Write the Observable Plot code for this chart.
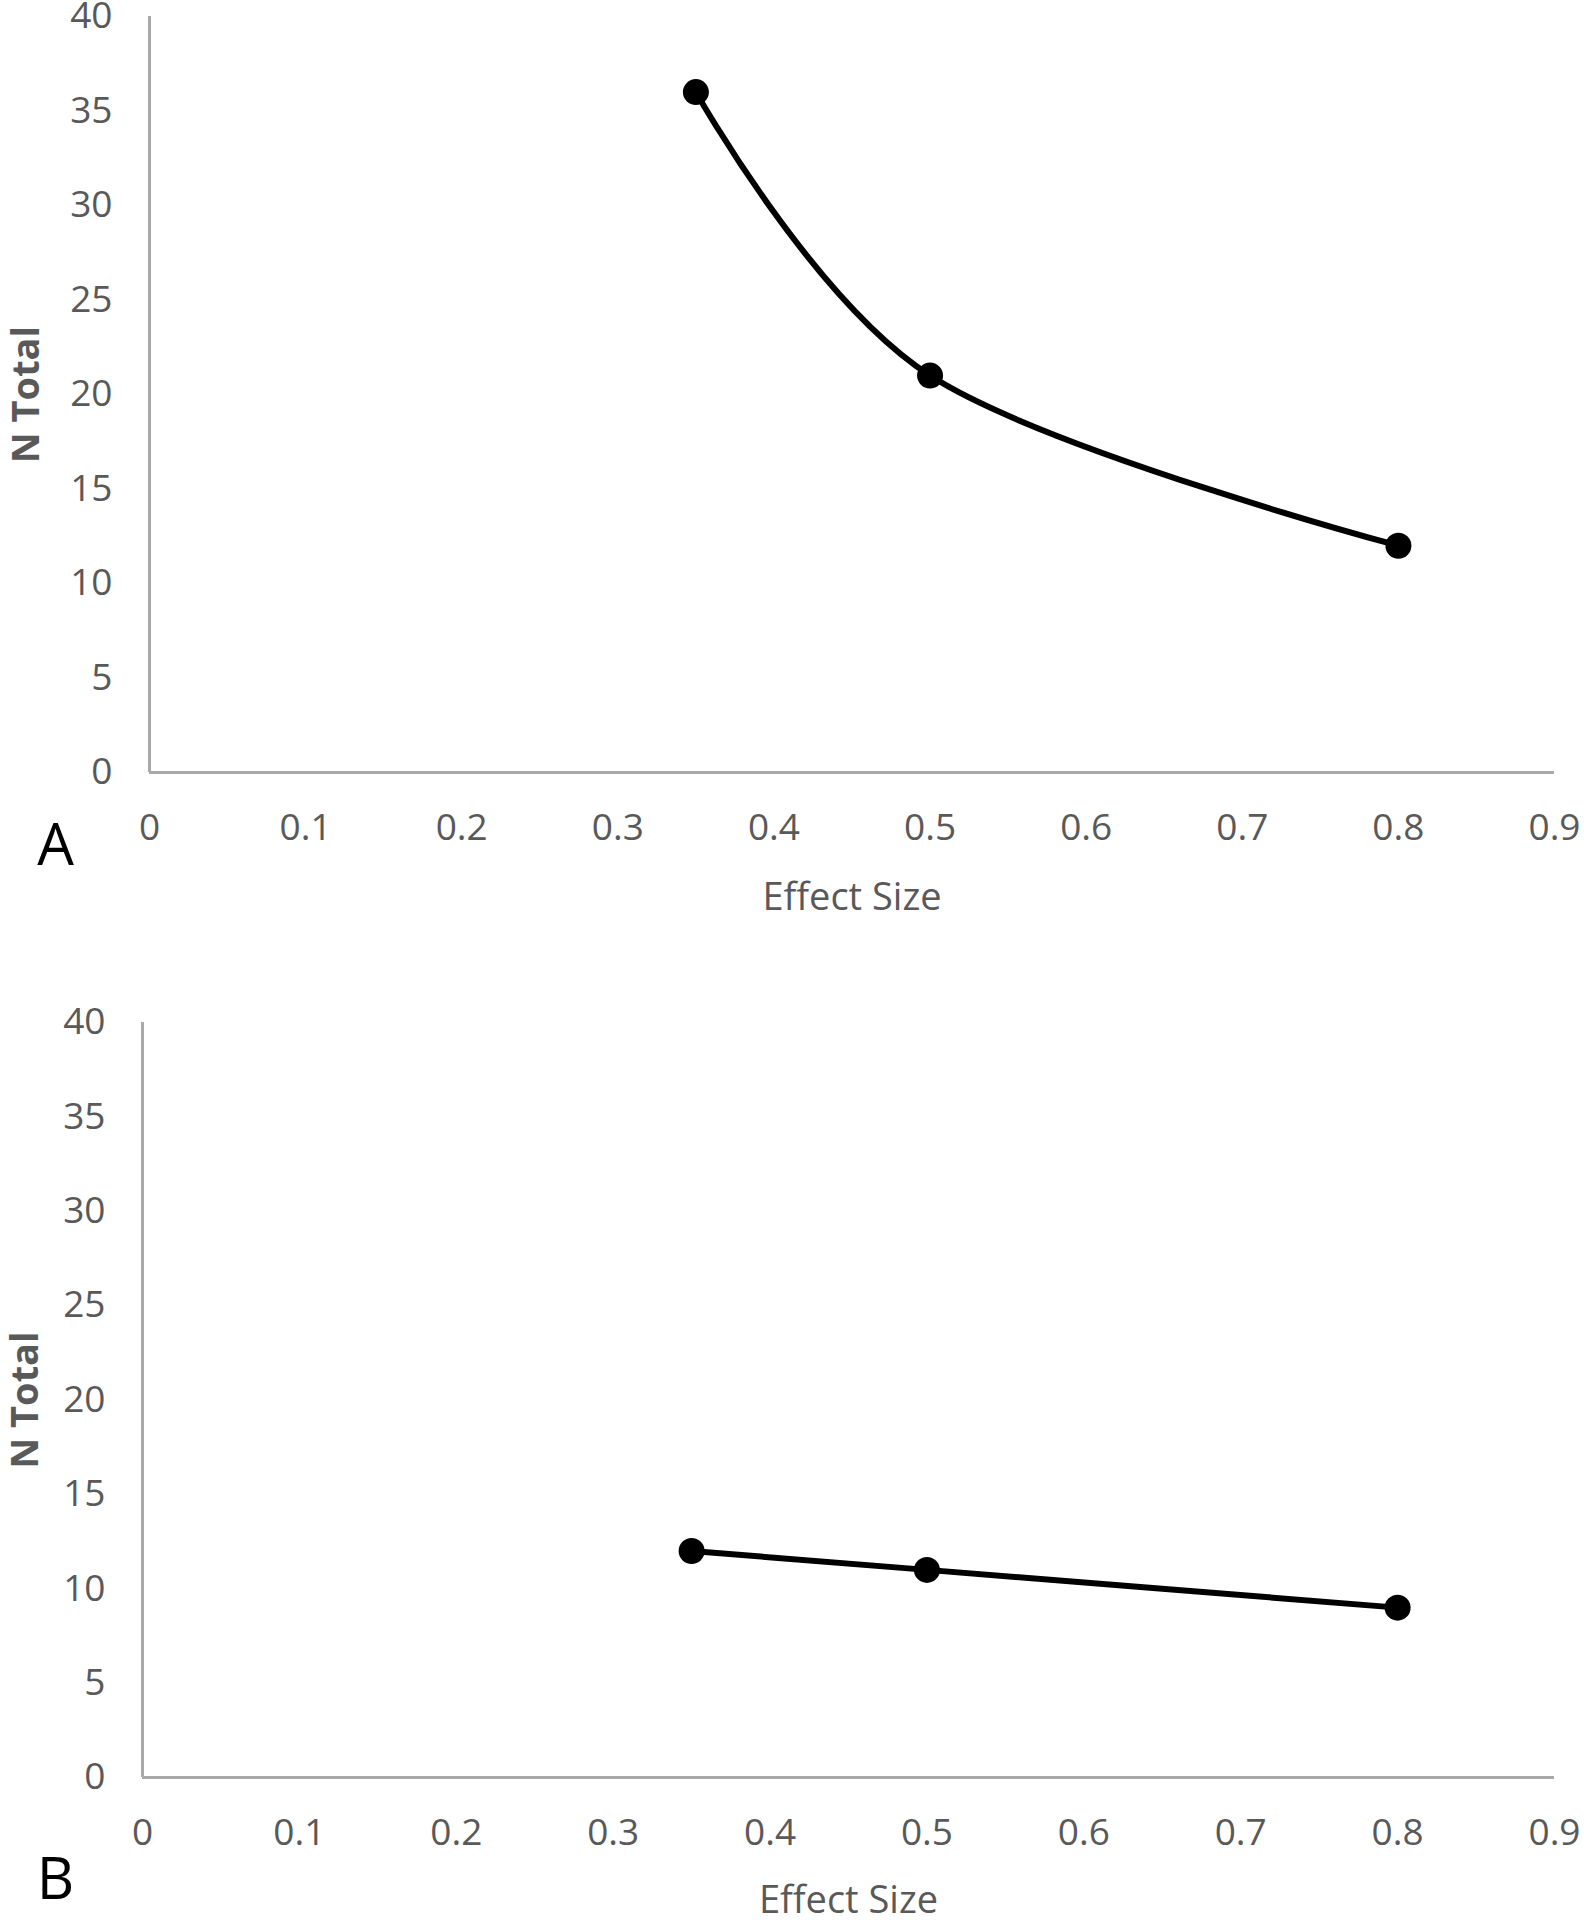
<!DOCTYPE html>
<html>
<head>
<meta charset="utf-8">
<script src="https://cdn.jsdelivr.net/npm/d3@7"></script>
<script src="https://cdn.jsdelivr.net/npm/@observablehq/plot@0.6"></script>
<style>
  html, body { margin: 0; padding: 0; background: #fff; }
  #wrap { position: relative; width: 1584px; height: 1920px; }
  .panel { position: absolute; left: 0; }
</style>
</head>
<body>
<div id="wrap">
  <div id="pA" class="panel" style="top:0px"></div>
  <div id="pB" class="panel" style="top:960px"></div>
</div>
<script>
const effectSize = [0.35, 0.5, 0.8];
const nTotalA = [36, 21, 12];
const nTotalB = [12, 11, 9];
const xTicks = [0, 0.1, 0.2, 0.3, 0.4, 0.5, 0.6, 0.7, 0.8, 0.9];
const yTicks = [0, 5, 10, 15, 20, 25, 30, 35, 40];
const xTitle = "Effect Size";
const yTitle = "N Total";
const panelLabels = ["A", "B"];

const FONT = "'Open Sans', 'Noto Sans', sans-serif";
const GREY = "#595959";
const AXIS = "#a9a9a9";

function panel(values, label, m) {
  const data = effectSize.map((x, i) => ({x, y: values[i]}));
  return Plot.plot({
    width: 1584,
    height: 960,
    marginLeft: m.left,
    marginRight: 30,
    marginTop: m.top,
    marginBottom: m.bottom,
    style: {fontFamily: FONT, fontSize: "37px", color: GREY, background: "#fff"},
    x: {domain: [0, 0.9], ticks: xTicks},
    y: {domain: [0, 40], ticks: yTicks},
    marks: [
      Plot.axisX({ticks: xTicks, tickSize: 0, tickPadding: 41, label: null, fill: GREY, tickFormat: d => String(+d.toFixed(1)), fontSize: 37}),
      Plot.axisY({ticks: yTicks, tickSize: 0, tickPadding: 37, label: null, fill: GREY, fontSize: 37}),
      Plot.ruleY([0], {stroke: AXIS, strokeWidth: 3}),
      Plot.ruleX([0], {stroke: AXIS, strokeWidth: 3}),
      Plot.line(data, {x: "x", y: "y", curve: "cardinal", tension: 0, stroke: "#000", strokeWidth: 6}),
      Plot.dot(data, {x: "x", y: "y", r: 13, fill: "#000", stroke: null}),
      Plot.text([xTitle], {frameAnchor: "bottom", dy: m.xTitleDy, fill: GREY, fontSize: 38, lineAnchor: "middle", text: d => d}),
      Plot.text([yTitle], {frameAnchor: "left", dx: m.yTitleDx, rotate: -90, textAnchor: "middle", lineAnchor: "middle", fill: GREY, fontSize: 38, fontWeight: "bold", text: d => d}),
      Plot.text([label], {frameAnchor: "bottom-left", dx: m.lblDx, dy: m.lblDy, fill: "#000", fontSize: 58, textAnchor: "middle", lineAnchor: "middle", text: d => d})
    ]
  });
}

document.getElementById("pA").append(panel(nTotalA, panelLabels[0], {left: 149, top: 16, bottom: 188, xTitleDy: 125, yTitleDx: -123, lblDx: -94, lblDy: 74}));
document.getElementById("pB").append(panel(nTotalB, panelLabels[1], {left: 142, top: 62, bottom: 143, xTitleDy: 123, yTitleDx: -117, lblDx: -87, lblDy: 103}));
</script>
</body>
</html>
